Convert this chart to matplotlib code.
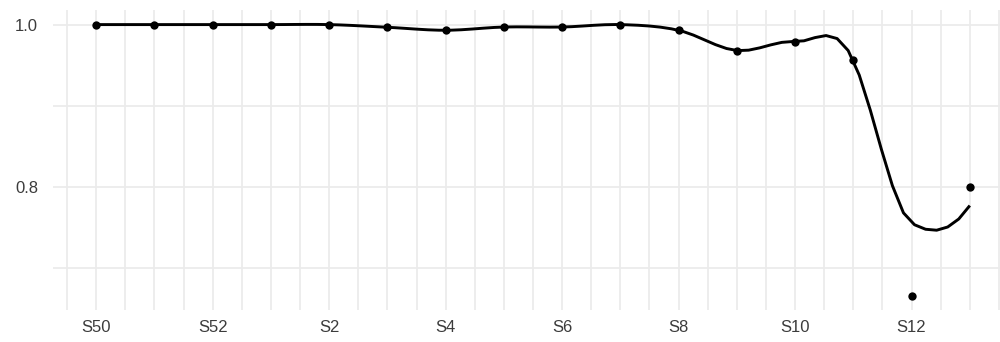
import matplotlib
matplotlib.use("Agg")
import matplotlib.pyplot as plt
import numpy as np

labels = ["S50", "S51", "S52", "S1", "S2", "S3", "S4", "S5", "S6", "S7",
          "S8", "S9", "S10", "S11", "S12", "S13"]
values = [1.0, 1.0, 1.0, 1.0, 1.0, 0.9967, 0.993, 0.997, 0.997, 1.0,
          0.993, 0.968, 0.979, 0.956, 0.665, 0.80]
y_ticks = [0.8, 1.0]
span = 0.35


def local_fit(x, y, x0, span, degree=2):
    # tricube-weighted local quadratic, returns value and slope at x0
    q = int(np.floor(len(x) * span + 1e-5))
    d = np.abs(x - x0)
    h = np.sort(d)[q - 1] * max(1.0, span)
    u = np.clip(d / h, 0, 1)
    w = (1 - u ** 3) ** 3
    X = np.vander(x - x0, degree + 1, increasing=True)
    W = np.diag(w)
    beta = np.linalg.lstsq(X.T @ W @ X, X.T @ W @ y, rcond=None)[0]
    return beta[0], beta[1]


def kd_vertices(x, lo, hi, fc, out):
    # split cells at the median point, like the kd tree in R's loess
    if len(x) <= fc:
        return
    m = (len(x) + 1) // 2 - 1
    cut = x[m]
    if cut == lo or cut == hi:
        return
    out.append(cut)
    kd_vertices(x[:m + 1], lo, cut, fc, out)
    kd_vertices(x[m + 1:], cut, hi, fc, out)


def loess(x, y, xs, span):
    mu = 0.005 * (x.max() - x.min())
    lo, hi = x.min() - mu, x.max() + mu
    fc = max(int(np.floor(len(x) * span * 0.2)), 1)
    verts = [lo, hi]
    kd_vertices(x, lo, hi, fc, verts)
    verts = np.array(sorted(verts))
    fv = np.array([local_fit(x, y, v, span) for v in verts])
    out = []
    for xx in xs:
        i = int(np.clip(np.searchsorted(verts, xx) - 1, 0, len(verts) - 2))
        hh = verts[i + 1] - verts[i]
        t = (xx - verts[i]) / hh
        out.append((2 * t**3 - 3 * t**2 + 1) * fv[i, 0]
                   + (t**3 - 2 * t**2 + t) * hh * fv[i, 1]
                   + (-2 * t**3 + 3 * t**2) * fv[i + 1, 0]
                   + (t**3 - t**2) * hh * fv[i + 1, 1])
    return np.array(out)


x = np.arange(1, len(values) + 1, dtype=float)
y = np.array(values)
xs = np.linspace(x.min(), x.max(), 80)
ys = loess(x, y, xs, span)

plt.rcParams['font.family'] = ['Liberation Sans', 'DejaVu Sans']

fig = plt.figure(figsize=(10, 3.42), dpi=100)
ax = fig.add_axes([52.5 / 1000, 1 - 310 / 342, 961 / 1000, 300 / 342])

grid_col = "#EBEBEB"
for gx in np.arange(0.5, 17, 0.5):
    ax.axvline(gx, color=grid_col, lw=1.25, zorder=0)
for gy in [0.7, 0.8, 0.9, 1.0]:
    ax.axhline(gy, color=grid_col, lw=1.25, zorder=0)

ax.scatter(x, y, color="black", s=36, zorder=3, linewidths=0)
ax.plot(xs, ys, color="black", lw=2.1, zorder=2, solid_capstyle="butt")

ax.set_xlim(0.25, 16.75)
ax.set_ylim(0.648, 1.018)
ax.set_xticks(x[::2])
ax.set_xticklabels(labels[::2])
ax.set_yticks(y_ticks)
ax.set_yticklabels([f"{v:.1f}" for v in y_ticks])
ax.tick_params(axis="both", length=0, labelsize=12, colors="#3C3C3C")
ax.tick_params(axis="y", pad=10.5)
ax.tick_params(axis="x", pad=7.5)
for s in ax.spines.values():
    s.set_visible(False)

fig.savefig("out.png", dpi=100, facecolor="white")
